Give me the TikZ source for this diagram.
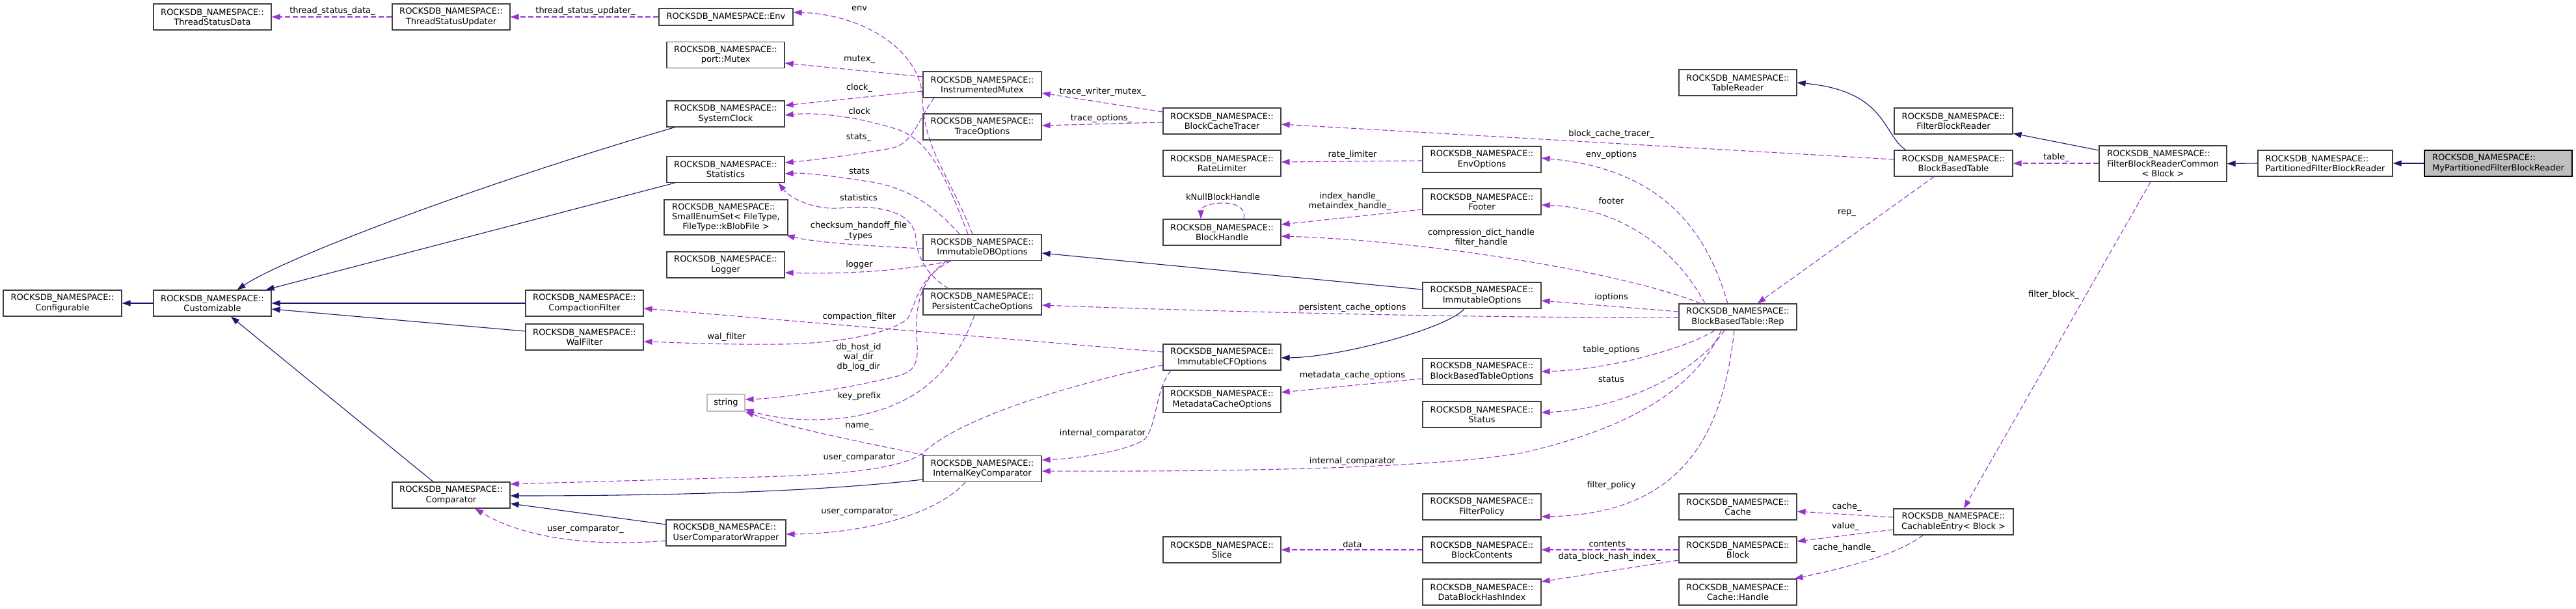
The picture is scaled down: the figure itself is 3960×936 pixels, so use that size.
\documentclass[tikz,border=0pt]{standalone}
\usepackage{fontspec}
\setmainfont{DejaVu Sans}
\usetikzlibrary{arrows.meta}
\definecolor{usecol}{HTML}{9A32CD}
\definecolor{inhcol}{HTML}{191970}
\definecolor{boxcol}{HTML}{404040}
\definecolor{greyfill}{HTML}{BFBFBF}
\newlength\lnw
\newcommand{\NS}{ROCKSDB\_NAMESPACE::}
\newcommand{\leftpair}[1]{\settowidth{\lnw}{#1}\makebox[\lnw][l]{\NS}\\#1}
\begin{document}
\begin{tikzpicture}[x=1pt,y=-1pt,
  font=\fontsize{13}{15.3}\selectfont,
  cls/.style={draw=boxcol, line width=1.2pt, fill=white, rectangle, minimum width=181pt, minimum height=40pt, inner xsep=3pt, inner ysep=2pt, align=center},
  lbl/.style={inner sep=0pt, align=center},
  inhedge/.style={draw=inhcol, line width=1.1pt, -{Triangle[length=13pt,width=9pt]}},
  usedge/.style={draw=usecol, line width=1.1pt, dash pattern=on 8pt off 4pt, -{Triangle[length=13pt,width=9pt]}}]
\useasboundingbox (0,0) rectangle (3960,936);
% ---------------- nodes ----------------
\node[cls] (tsd) at (326.5,26) {\NS\\ThreadStatusData};
\node[cls] (tsu) at (693.5,26) {\NS\\ThreadStatusUpdater};
\node[cls, minimum width=206pt, minimum height=26pt] (env) at (1116,26) {\NS Env};
\node[cls] (pm) at (1115.5,84.5) {\NS\\port::Mutex};
\node[cls] (sysclk) at (1115.5,175) {\NS\\SystemClock};
\node[cls] (stat) at (1115.5,260.5) {\NS\\Statistics};
\node[cls, minimum width=190pt, minimum height=54pt] (smeset) at (1116,334) {\leftpair{SmallEnumSet< FileType,}\\FileType::kBlobFile >};
\node[cls] (lg) at (1115.5,407) {\NS\\Logger};
\node[cls, minimum width=182pt] (conf) at (96,466) {\NS\\Configurable};
\node[cls] (cust) at (326.5,466) {\NS\\Customizable};
\node[cls] (cf) at (898.5,466) {\NS\\CompactionFilter};
\node[cls] (walf) at (898.5,518) {\NS\\WalFilter};
\node[cls, draw=greyfill, minimum width=58pt, minimum height=26pt] (str) at (1116,619) {string};
\node[cls] (cmp) at (693.5,761) {\NS\\Comparator};
\node[cls, minimum width=184pt, align=left] (ucw) at (1116,819) {\NS\\UserComparatorWrapper};
\node[cls, minimum width=182pt] (im) at (1510,130) {\NS\\InstrumentedMutex};
\node[cls, minimum width=182pt] (to) at (1510,195) {\NS\\TraceOptions};
\node[cls, minimum width=182pt] (idbo) at (1510,380.5) {\NS\\ImmutableDBOptions};
\node[cls, minimum width=182pt] (pco) at (1510,464) {\NS\\PersistentCacheOptions};
\node[cls, minimum width=182pt] (ikc) at (1510,720.5) {\NS\\InternalKeyComparator};
\node[cls] (bct) at (1878.5,186) {\NS\\BlockCacheTracer};
\node[cls] (rl) at (1878.5,251) {\NS\\RateLimiter};
\node[cls] (bh) at (1878.5,357) {\NS\\BlockHandle};
\node[cls] (icf) at (1878.5,549) {\NS\\ImmutableCFOptions};
\node[cls] (mco) at (1878.5,614) {\NS\\MetadataCacheOptions};
\node[cls] (sl) at (1878.5,845) {\NS\\Slice};
\node[cls, minimum width=182pt] (envo) at (2278,245) {\NS\\EnvOptions};
\node[cls, minimum width=182pt] (ft) at (2278,310) {\NS\\Footer};
\node[cls, minimum width=182pt] (imo) at (2278,454) {\NS\\ImmutableOptions};
\node[cls, minimum width=182pt] (bbto) at (2278,571) {\NS\\BlockBasedTableOptions};
\node[cls, minimum width=182pt] (st) at (2278,637) {\NS\\Status};
\node[cls, minimum width=182pt] (fp) at (2278,779) {\NS\\FilterPolicy};
\node[cls, minimum width=182pt] (bc) at (2278,845) {\NS\\BlockContents};
\node[cls, minimum width=182pt] (dbhi) at (2278,910) {\NS\\DataBlockHashIndex};
\node[cls] (tr) at (2671.5,127) {\NS\\TableReader};
\node[cls] (rep) at (2671.5,487) {\NS\\BlockBasedTable::Rep};
\node[cls] (cache) at (2671.5,779) {\NS\\Cache};
\node[cls] (blk) at (2671.5,845) {\NS\\Block};
\node[cls] (ch) at (2671.5,910) {\NS\\Cache::Handle};
\node[cls, minimum width=182pt] (fbr) at (3003,186) {\NS\\FilterBlockReader};
\node[cls, minimum width=182pt] (bbt) at (3003,251) {\NS\\BlockBasedTable};
\node[cls, minimum width=184pt] (ce) at (3003,802) {\NS\\CachableEntry< Block >};
\node[cls, minimum width=196pt, minimum height=55pt] (fbrc) at (3325,251.5) {\leftpair{FilterBlockReaderCommon}\\< Block >};
\node[cls, minimum width=207pt, align=left] (pfbr) at (3574.5,251) {\NS\\PartitionedFilterBlockReader};
\node[cls, minimum width=227pt, align=left, draw=black, fill=greyfill] (mypfbr) at (3840.5,251) {\NS\\MyPartitionedFilterBlockReader};
% ---------------- inheritance ----------------
\draw[inhedge] (cust.west) -- (conf.east);
\draw[inhedge] ([xshift=13pt]sysclk.south west) .. controls (738,283) and (440,395) .. ([xshift=38pt]cust.north);
\draw[inhedge] ([xshift=13pt]stat.south west) -- ([xshift=-9pt]cust.north east);
\draw[inhedge] (cf.west) -- (cust.east);
\draw[inhedge] ([yshift=9pt]walf.west) -- ([yshift=-9pt]cust.east);
\draw[inhedge] ([xshift=-27.5pt]cmp.north) -- ([xshift=28.5pt]cust.south);
\draw[inhedge] ([yshift=-16.5pt]ikc.west) .. controls (1250,757) and (1000,762) .. ([yshift=-1pt]cmp.east);
\draw[inhedge] ([yshift=13pt]ucw.west) -- ([yshift=-13pt]cmp.east);
\draw[inhedge] ([yshift=9pt]imo.west) -- ([yshift=-8.5pt]idbo.east);
\draw[inhedge] ([xshift=-27pt]imo.south) .. controls (2225,505) and (2060,549) .. ([yshift=-1pt]icf.east);
\draw[inhedge] ([xshift=18pt]bbt.north west) .. controls (2893,205) and (2900,140) .. (tr.east);
\draw[inhedge] ([yshift=20.5pt]fbrc.west) -- ([yshift=-19pt]fbr.east);
\draw[inhedge] (pfbr.west) -- (fbrc.east);
\draw[inhedge] (mypfbr.west) -- (pfbr.east);
% ---------------- usage ----------------
\draw[usedge] (tsu.west) -- (tsd.east);
\draw[usedge] (env.west) -- (tsu.east);
\draw[usedge] ([xshift=-15pt]idbo.north) .. controls (1460,270) and (1420,230) .. (1418,150) .. controls (1416,80) and (1330,22) .. ([yshift=7pt]env.east);
\draw[usedge] ([xshift=-22pt]idbo.north) .. controls (1450,260) and (1425,215) .. (1380,199) .. controls (1320,180) and (1260,172) .. ([yshift=-2pt]sysclk.east);
\draw[usedge] ([xshift=-35pt]idbo.north) .. controls (1440,320) and (1400,290) .. (1341,280) .. controls (1290,272) and (1240,265) .. ([yshift=-6.5pt]stat.east);
\draw[usedge] ([xshift=-74pt]im.south) .. controls (1410,185) and (1405,220) .. (1370,228) .. controls (1300,240) and (1240,247) .. ([yshift=10.5pt]stat.east);
\draw[usedge] ([yshift=-10pt]im.west) -- ([yshift=13pt]sysclk.east);
\draw[usedge] ([yshift=12pt]im.west) -- ([yshift=-12.5pt]pm.east);
\draw[usedge] ([xshift=-52pt]pco.north) .. controls (1420,420) and (1410,390) .. (1408,367) .. controls (1405,320) and (1340,315) .. (1290,320) .. controls (1250,322) and (1215,305) .. ([xshift=-10pt]stat.south east);
\draw[usedge] ([yshift=-1.5pt]idbo.west) .. controls (1330,378) and (1250,372) .. ([xshift=-3pt]smeset.south east);
\draw[usedge] ([xshift=-51pt]idbo.south) .. controls (1400,415) and (1300,422) .. ([yshift=-12pt]lg.east);
\draw[usedge] ([xshift=-48pt]idbo.south) .. controls (1410,425) and (1408,470) .. (1395,490) .. controls (1370,512) and (1290,528) .. (1200,529) .. controls (1100,530) and (1030,526) .. ([yshift=-7pt]walf.east);
\draw[usedge] ([xshift=-55pt]idbo.south) .. controls (1415,430) and (1405,470) .. (1410,530) .. controls (1412,565) and (1400,572) .. (1380,578) .. controls (1300,598) and (1200,612) .. ([yshift=5pt]str.east);
\draw[usedge] ([yshift=8pt]icf.west) -- ([yshift=-8pt]cf.east);
\draw[usedge] ([xshift=-12pt]pco.south) .. controls (1470,560) and (1420,625) .. (1300,642) .. controls (1230,650) and (1180,640) .. ([yshift=-10pt]str.east);
\draw[usedge] ([xshift=4pt]ikc.north west) .. controls (1330,680) and (1220,660) .. (str.south east);
\draw[usedge] ([yshift=-12pt]icf.west) .. controls (1650,590) and (1480,640) .. (1420,695) .. controls (1390,720) and (1300,728) .. (1200,732) .. controls (1000,738) and (850,742) .. ([yshift=17pt]cmp.east);
\draw[usedge] ([xshift=-26pt]ikc.south) .. controls (1440,790) and (1330,820) .. ([yshift=-2pt]ucw.east);
\draw[usedge] ([yshift=-12pt]ucw.west) .. controls (920,840) and (810,830) .. ([xshift=36.5pt]cmp.south);
\draw[usedge] ([xshift=-78.5pt]icf.south) .. controls (1775,600) and (1780,650) .. (1760,675) .. controls (1730,695) and (1650,705) .. ([yshift=13.5pt]ikc.east);
\draw[usedge] ([xshift=-25.5pt]rep.south) .. controls (2610,590) and (2520,655) .. (2340,696) .. controls (2200,720) and (1900,725) .. ([yshift=-3.5pt]ikc.east);
\draw[usedge] ([yshift=-1pt]rep.west) .. controls (2300,489) and (1900,480) .. ([yshift=-5pt]pco.east);
\draw[usedge] ([yshift=8pt]rep.west) -- ([yshift=-8pt]imo.east);
\draw[usedge] ([xshift=-35.5pt]rep.south) .. controls (2600,532) and (2480,568) .. (bbto.east);
\draw[usedge] ([xshift=-20.5pt]rep.south) .. controls (2610,570) and (2500,628) .. ([yshift=3pt]st.east);
\draw[usedge] ([xshift=-5.5pt]rep.south) .. controls (2650,650) and (2600,790) .. ([yshift=-15pt]fp.east);
\draw[usedge] ([xshift=-15.5pt]rep.north) .. controls (2625,360) and (2560,260) .. ([yshift=2pt]envo.east);
\draw[usedge] ([xshift=-50.5pt]rep.north) .. controls (2580,390) and (2500,320) .. ([yshift=-5pt]ft.east);
\draw[usedge] ([xshift=-57pt]rep.north) .. controls (2500,420) and (2200,370) .. ([yshift=-6pt]bh.east);
\draw[usedge] ([yshift=-12pt]ft.west) -- ([yshift=12pt]bh.east);
\draw[usedge] ([xshift=33.5pt]bh.north) .. controls (1916,320) and (1900,312) .. (1880,312) .. controls (1860,312) and (1846,318) .. ([xshift=-32.5pt]bh.north);
\draw[usedge] ([yshift=-2pt]envo.west) -- ([yshift=2pt]rl.east);
\draw[usedge] ([yshift=6pt]bbt.west) -- ([yshift=-5pt]bct.east);
\draw[usedge] ([yshift=14pt]bct.west) -- ([yshift=-13pt]im.east);
\draw[usedge] ([yshift=-2pt]bct.west) -- ([yshift=2pt]to.east);
\draw[usedge] ([yshift=-11pt]bbto.west) -- ([yshift=11pt]mco.east);
\draw[usedge] (bc.west) -- (sl.east);
\draw[usedge] ([xshift=-30pt]bbt.south) -- ([xshift=30pt]rep.north);
\draw[usedge] ([yshift=0.5pt]fbrc.west) -- (bbt.east);
\draw[usedge] ([xshift=-19pt]fbrc.south) -- ([xshift=16pt]ce.north);
\draw[usedge] ([yshift=7pt]ce.west) -- ([yshift=-7pt]cache.east);
\draw[usedge] ([yshift=-12pt]ce.west) -- ([yshift=13pt]blk.east);
\draw[usedge] ([xshift=46pt]ce.south west) .. controls (2920,850) and (2850,870) .. ([xshift=-4pt]ch.north east);
\draw[usedge] (blk.west) -- (bc.east);
\draw[usedge] ([yshift=-16pt]blk.west) -- ([yshift=16pt]dbhi.east);
% ---------------- labels ----------------
\node[lbl] (l01) at (511,17) {thread\_status\_data\_};
\node[lbl] (l02) at (900,17) {thread\_status\_updater\_};
\node[lbl] (l03) at (1321,13) {env};
\node[lbl] (l04) at (1321,91) {mutex\_};
\node[lbl] (l05) at (1321,135) {clock\_};
\node[lbl] (l06) at (1321,171) {clock};
\node[lbl] (l07) at (1320,211) {stats\_};
\node[lbl] (l08) at (1321,263) {stats};
\node[lbl] (l09) at (1320,304) {statistics};
\node[lbl] (l10) at (1320,355) {checksum\_handoff\_file\\\_types};
\node[lbl] (l11) at (1321,407) {logger};
\node[lbl] (l12) at (1321,487) {compaction\_filter};
\node[lbl] (l13) at (1117,518) {wal\_filter};
\node[lbl] (l14) at (1320,549) {db\_host\_id\\wal\_dir\\db\_log\_dir};
\node[lbl] (l15) at (1321,609) {key\_prefix};
\node[lbl] (l16) at (1321,655) {name\_};
\node[lbl] (l17) at (1321,703) {user\_comparator};
\node[lbl] (l18) at (1321,786) {user\_comparator\_};
\node[lbl] (l19) at (900,813) {user\_comparator\_};
\node[lbl] (l20) at (1695,141) {trace\_writer\_mutex\_};
\node[lbl] (l21) at (1693,182) {trace\_options\_};
\node[lbl] (l22) at (2079,238) {rate\_limiter};
\node[lbl] (l23) at (1880,303) {kNullBlockHandle};
\node[lbl] (l24) at (2075,309.5) {index\_handle\_\\metaindex\_handle\_};
\node[lbl] (l25) at (2277,365.5) {compression\_dict\_handle\\filter\_handle};
\node[lbl] (l26) at (2079,473) {persistent\_cache\_options};
\node[lbl] (l27) at (2079,577) {metadata\_cache\_options};
\node[lbl] (l28) at (1695,666) {internal\_comparator};
\node[lbl] (l29) at (2079,709) {internal\_comparator};
\node[lbl] (l30) at (2079,837) {data};
\node[lbl] (l31) at (2477,206) {block\_cache\_tracer\_};
\node[lbl] (l32) at (2477,238) {env\_options};
\node[lbl] (l33) at (2477,309) {footer};
\node[lbl] (l34) at (2477,457) {ioptions};
\node[lbl] (l35) at (2839,327) {rep\_};
\node[lbl] (l36) at (2477,538) {table\_options};
\node[lbl] (l37) at (2477,583) {status};
\node[lbl] (l38) at (2477,746) {filter\_policy};
\node[lbl] (l39) at (2839,779) {cache\_};
\node[lbl] (l40) at (2837,809) {value\_};
\node[lbl] (l41) at (2835,842) {cache\_handle\_};
\node[lbl] (l42) at (2474,837) {contents\_};
\node[lbl] (l43) at (2474,856) {data\_block\_hash\_index\_};
\node[lbl] (l44) at (3161,242) {table\_};
\node[lbl] (l45) at (3157,453) {filter\_block\_};
\end{tikzpicture}
\end{document}
